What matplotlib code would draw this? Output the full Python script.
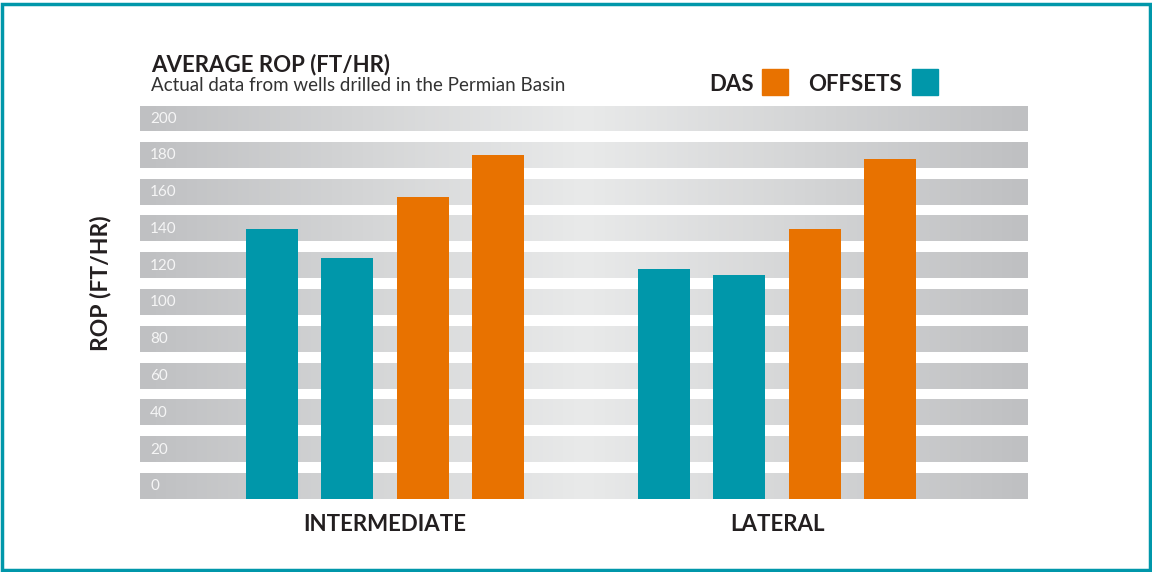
import numpy as np
import matplotlib
matplotlib.use("Agg")
import matplotlib.pyplot as plt
import matplotlib.colors as mcolors
from matplotlib.patches import Rectangle

categories = ["INTERMEDIATE", "LATERAL"]
offsets_1 = [147, 125]
offsets_2 = [131, 122]
das_1 = [164, 147]
das_2 = [187, 185]
yticks = [0, 20, 40, 60, 80, 100, 120, 140, 160, 180, 200]

TEAL = "#0097AA"
ORANGE = "#E87200"
DARK = "#231F20"

plt.rcParams["font.family"] = ["Lato", "DejaVu Sans"]

fig = plt.figure(figsize=(11.52, 5.72), dpi=100)
ax = fig.add_axes([140 / 1152, 73 / 572, 888 / 1152, 393 / 572])

x0, x1 = -0.625, 1.640
band_h = 13.6

# horizontal gray bands with a gradient that is lighter in the middle
grad_cmap = mcolors.LinearSegmentedColormap.from_list(
    "band", ["#BFC0C2", "#E9EAEA", "#BFC0C2"])
grad = np.linspace(0, 1, 256).reshape(1, -1)
for v in yticks:
    ax.imshow(grad, cmap=grad_cmap, extent=[x0, x1, v, v + band_h],
              aspect="auto", zorder=0, interpolation="bilinear")
    ax.text(x0 + 0.026, v + band_h / 2, str(v), color="white", fontsize=11,
            va="center", ha="left", alpha=0.85, zorder=1)

x = np.arange(len(categories))
w = 0.1327
step = 0.1926
ax.bar(x - 1.5 * step, offsets_1, w, color=TEAL, zorder=2)
ax.bar(x - 0.5 * step, offsets_2, w, color=TEAL, zorder=2)
ax.bar(x + 0.5 * step, das_1, w, color=ORANGE, zorder=2)
ax.bar(x + 1.5 * step, das_2, w, color=ORANGE, zorder=2)

ax.set_xlim(x0, x1)
ax.set_ylim(0, 200 + band_h)
ax.set_yticks([])
ax.set_xticks(x)
ax.set_xticklabels(categories, fontsize=16, fontweight="bold", color=DARK)
ax.tick_params(axis="x", length=0, pad=11)
for s in ax.spines.values():
    s.set_visible(False)

ax.set_ylabel("ROP (FT/HR)", fontsize=16.5, fontweight="bold", color=DARK,
              va="center")
ax.yaxis.set_label_coords(-0.044, 0.55)

fig.text(151 / 1152, 1 - 71 / 572, "AVERAGE ROP (FT/HR)", fontsize=16,
         fontweight="bold", color=DARK)
fig.text(151 / 1152, 1 - 91 / 572, "Actual data from wells drilled in the Permian Basin",
         fontsize=13.5, color="#333333")

# legend
fig.text(709 / 1152, 1 - 91 / 572, "DAS", fontsize=16, fontweight="bold", color=DARK)
fig.patches.append(Rectangle((762 / 1152, 1 - 95 / 572), 26 / 1152, 26 / 572,
                             transform=fig.transFigure, color=ORANGE))
fig.text(808 / 1152, 1 - 91 / 572, "OFFSETS", fontsize=16, fontweight="bold", color=DARK)
fig.patches.append(Rectangle((912 / 1152, 1 - 95 / 572), 26 / 1152, 26 / 572,
                             transform=fig.transFigure, color=TEAL))

# frame
fig.patches.append(Rectangle((1.5 / 1152, 2.5 / 572), 1148 / 1152, 566 / 572,
                             transform=fig.transFigure, fill=False,
                             edgecolor=TEAL, linewidth=2.5))

fig.savefig("out.png", dpi=100)
